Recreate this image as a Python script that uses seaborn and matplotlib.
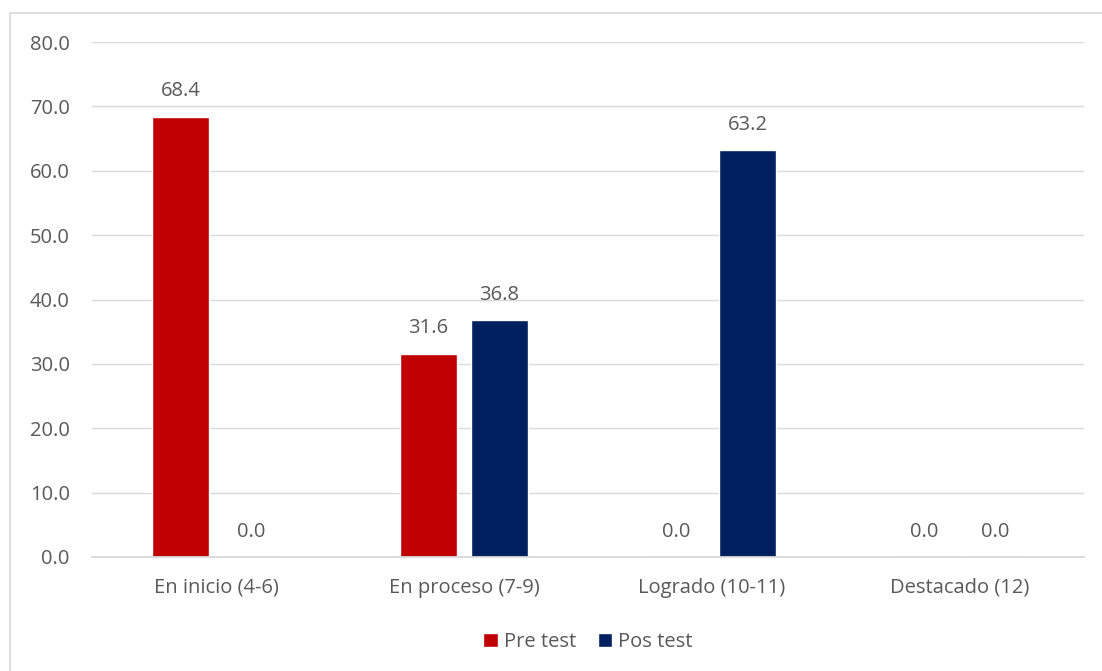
import matplotlib
matplotlib.use("Agg")
import matplotlib.pyplot as plt
import seaborn as sns
import pandas as pd
from matplotlib.lines import Line2D

categories = ["En inicio (4-6)", "En proceso (7-9)", "Logrado (10-11)", "Destacado (12)"]
series_names = ["Pre test", "Pos test"]
pre_test = [68.4, 31.6, 0.0, 0.0]
pos_test = [0.0, 36.8, 63.2, 0.0]
y_ticks = [0, 10, 20, 30, 40, 50, 60, 70, 80]
colors = ["#C00000", "#002060"]

df = pd.DataFrame({
    "cat": categories * 2,
    "serie": [series_names[0]] * 4 + [series_names[1]] * 4,
    "val": pre_test + pos_test,
})

sns.set_theme(style="white")
plt.rcParams["font.family"] = ["Open Sans", "DejaVu Sans"]
txt = "#595959"
fs = 14.5

fig = plt.figure(figsize=(11.02, 6.71), dpi=100)
ax = fig.add_axes([92 / 1102, 1 - 557 / 671, (1084 - 92) / 1102, (557 - 42) / 671])

sns.barplot(data=df, x="cat", y="val", hue="serie", order=categories,
            hue_order=series_names, palette=colors, width=0.573, gap=0.21,
            errorbar=None, ax=ax, saturation=1, legend=True)

for c in ax.containers:
    ax.bar_label(c, labels=[f"{v:.1f}" for v in c.datavalues], padding=11,
                 fontsize=fs, color=txt)

ax.set_ylim(0, 80)
ax.set_yticks(y_ticks)
ax.set_yticklabels([f"{v:.1f}" for v in y_ticks], fontsize=fs, color=txt)
ax.set_xlim(-0.5, 3.5)
ax.tick_params(axis="x", labelsize=fs, colors=txt, length=0, pad=15)
ax.tick_params(axis="y", length=0, pad=16)
ax.set_xlabel("")
ax.set_ylabel("")
ax.yaxis.grid(True, color="#D9D9D9", linewidth=1.0)
ax.set_axisbelow(True)
for s in ["top", "right", "left"]:
    ax.spines[s].set_visible(False)
ax.spines["bottom"].set_color("#D9D9D9")
ax.spines["bottom"].set_linewidth(1.3)

handles, labels = ax.get_legend_handles_labels()
ax.legend(handles, labels, loc="center", bbox_to_anchor=(0.5, -0.166),
          ncol=2, frameon=False, fontsize=fs, labelcolor=txt,
          handlelength=0.7, handleheight=0.7, handletextpad=0.3, columnspacing=1.1)

# outer frame (top and left edges visible in the reference)
x0 = 9.5 / 1102
y0 = 1 - 12.5 / 671
fig.add_artist(Line2D([x0, 1.0], [y0, y0], transform=fig.transFigure,
                      color="#D9D9D9", linewidth=1.2))
fig.add_artist(Line2D([x0, x0], [0.0, y0], transform=fig.transFigure,
                      color="#D9D9D9", linewidth=1.2))

fig.savefig("out.png", dpi=100, facecolor="white")
